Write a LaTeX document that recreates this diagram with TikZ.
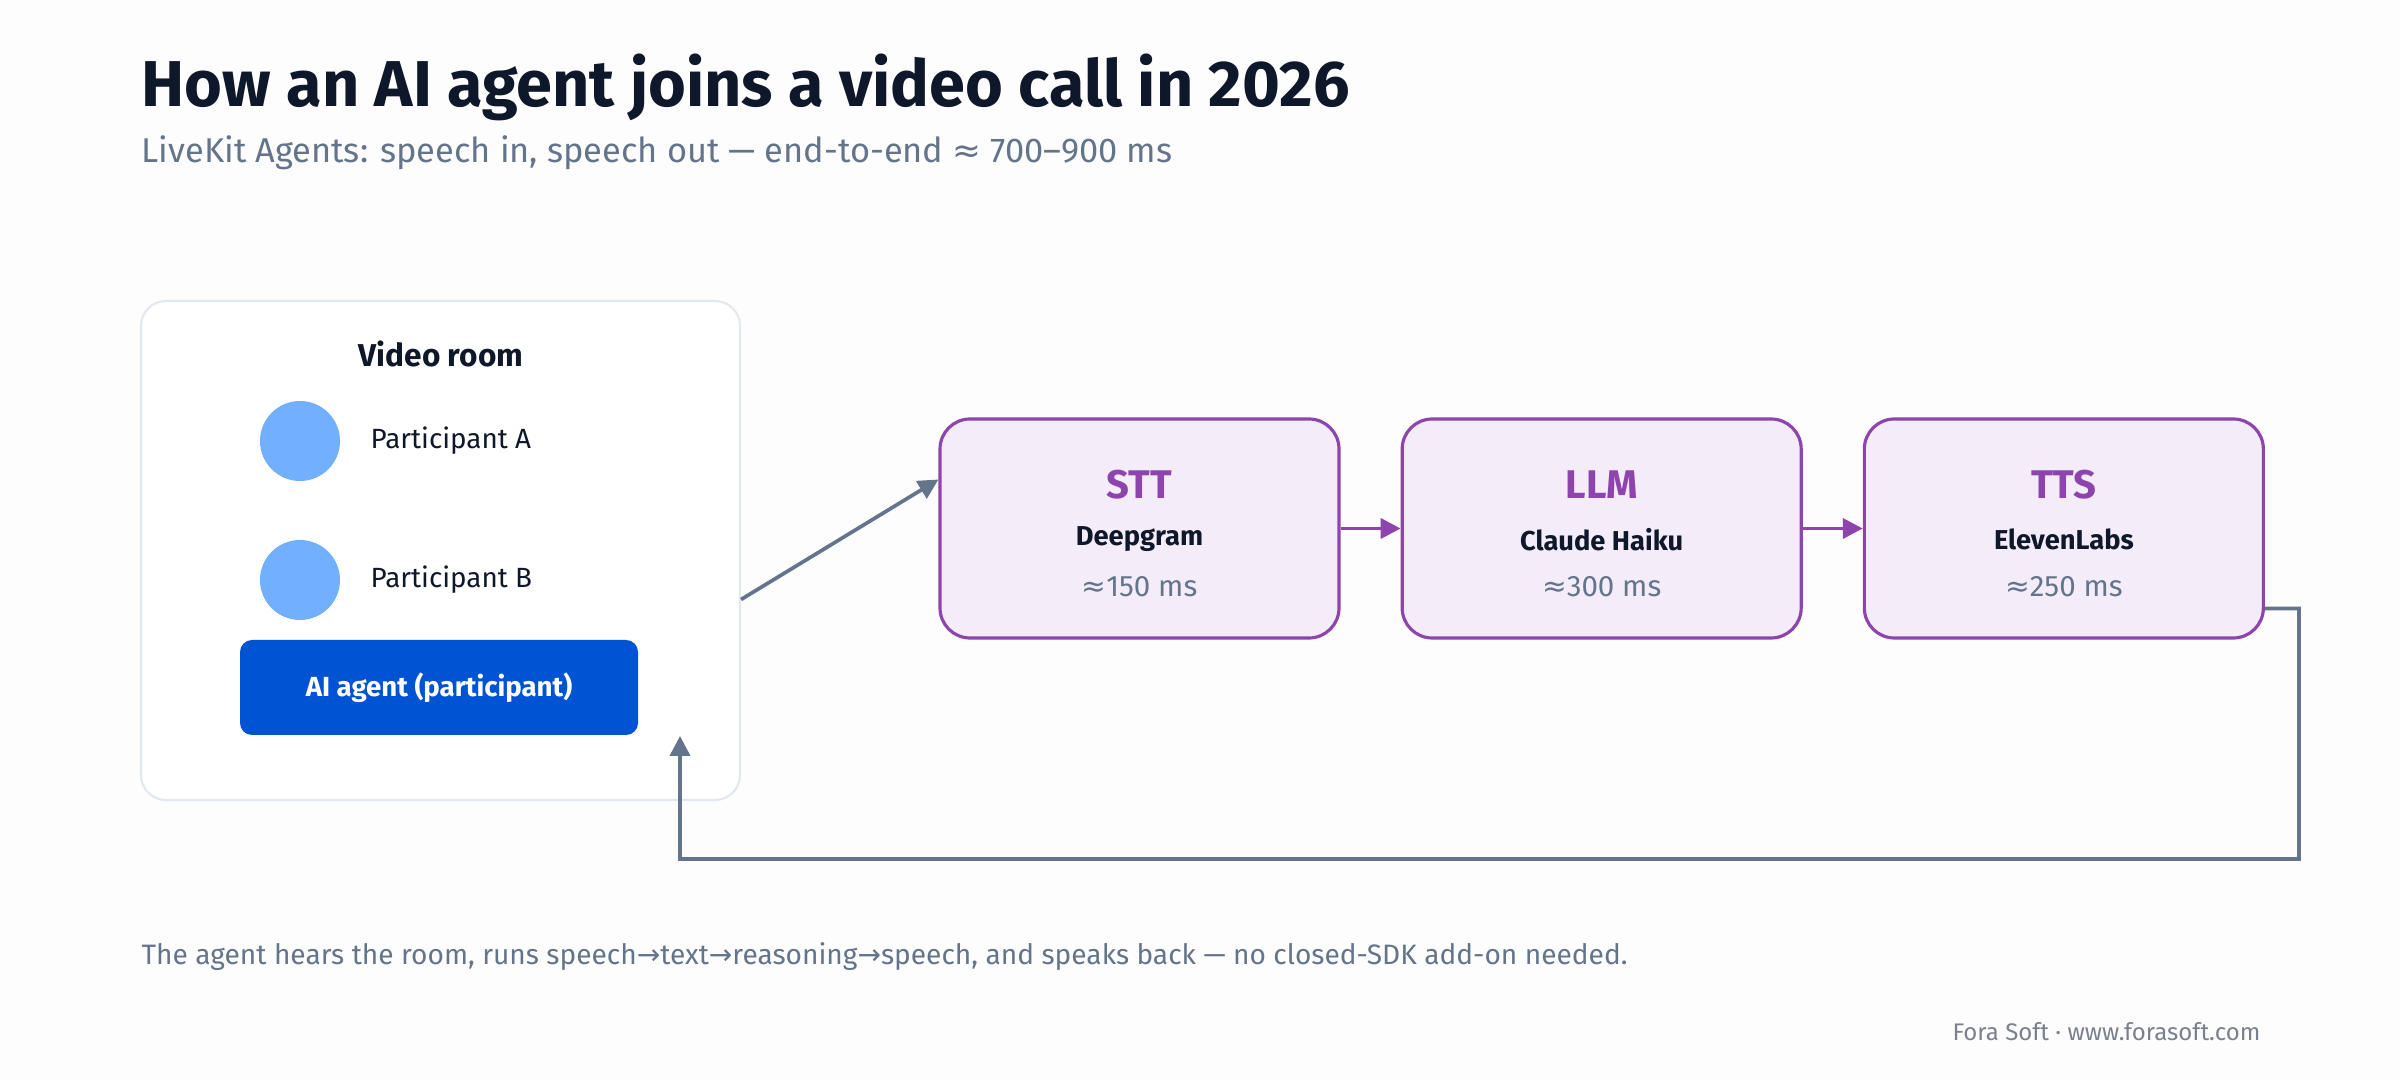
\documentclass[tikz,border=0pt]{standalone}
\usepackage{fontspec}
\setmainfont{Fira Sans}
\newfontfamily\symfont{DejaVu Sans}
\usetikzlibrary{positioning,arrows.meta,calc}

\definecolor{bgwhite}{HTML}{FDFDFE}
\definecolor{ink}{HTML}{0F172A}
\definecolor{slate}{HTML}{64748B}
\definecolor{roomline}{HTML}{E2E8F0}
\definecolor{dotblue}{HTML}{72B0FE}
\definecolor{agentblue}{HTML}{0053D3}
\definecolor{stagepurple}{HTML}{8E44AD}
\definecolor{stagefill}{HTML}{F4ECF9}
\definecolor{brandgray}{HTML}{7A808C}

\newcommand{\fsz}[1]{\fontsize{#1}{1.2\dimexpr#1\relax}\selectfont}
\newcommand{\approxsym}{{\symfont ≈}}
\newcommand{\arr}{{\symfont →}}

\begin{document}
\begin{tikzpicture}[
    stage/.style={draw=stagepurple, line width=0.9pt, fill=stagefill,
        rounded corners=0.3cm, minimum width=3.99cm, minimum height=2.19cm},
    flow/.style={-{Triangle[length=0.2cm,width=0.2cm]}, line width=1.05pt},
    person/.style={circle, fill=dotblue, minimum size=0.8cm, inner sep=0pt},
    personlabel/.style={anchor=west, inner sep=0pt, text=ink, font=\fsz{0.278cm}},
    node distance=0.6cm
]
    \useasboundingbox[fill=bgwhite] (0,0) rectangle (24,10.8);

    % Heading
    \node[anchor=base west, inner sep=0pt, text=ink, font=\bfseries\fsz{0.648cm}] (title) at (1.41,9.73)
        {How an AI agent joins a video call in 2026};
    \node[anchor=base west, inner sep=0pt, text=slate, font=\fsz{0.344cm}] (subtitle) at (1.41,9.17)
        {LiveKit Agents: speech in, speech out — end-to-end \approxsym{} 700–900 ms};

    % Video room
    \node[draw=roomline, line width=0.6pt, fill=white, rounded corners=0.25cm,
        minimum width=5.99cm, minimum height=4.99cm] (room) at (4.405,5.295) {};
    \node[text=ink, font=\bfseries\fsz{0.316cm}] (roomtitle) at (4.41,7.26) {Video room};
    \node[person] (pa) at (3.00,6.39) {};
    \node[personlabel] (palabel) at (3.70,6.39) {Participant A};
    \node[person] (pb) at (3.00,5.00) {};
    \node[personlabel] (pblabel) at (3.70,5.00) {Participant B};
    \node[fill=agentblue, rounded corners=0.12cm, minimum width=3.98cm, minimum height=0.95cm,
        text=white, font=\bfseries\fsz{0.276cm}] (agent) at (4.39,3.925) {AI agent (participant)};

    % Pipeline
    \node[stage] (stt) at (11.395,5.515) {};
    \node[stage, right=of stt] (llm) {};
    \node[stage, right=of llm] (tts) {};

    \foreach \st/\head/\vendor/\ms in {stt/STT/Deepgram/150, llm/LLM/Claude Haiku/300, tts/TTS/ElevenLabs/250} {
        \node[text=stagepurple, font=\bfseries\fsz{0.40cm}] at ($(\st)+(0,0.44)$) {\head};
        \node[text=ink, font=\bfseries\fsz{0.273cm}] at ($(\st)+(0,-0.11)$) {\vendor};
        \node[text=slate, font=\fsz{0.295cm}] at ($(\st)+(0,-0.58)$) {\approxsym\ms{} ms};
    }

    \draw[flow, stagepurple] (stt) -- (llm);
    \draw[flow, stagepurple] (llm) -- (tts);

    % Audio in and back out
    \coordinate (roomout) at ($(room.east)+(0,-0.49)$);
    \coordinate (sttin) at ($(stt.west)+(0,0.49)$);
    \draw[flow, slate] (roomout) -- (sttin);

    \coordinate (ttsout) at ($(tts.east)+(0,-0.80)$);
    \coordinate (agentin) at (6.80,3.44);
    \draw[flow, slate] (ttsout) -- (22.99,4.715) -- (22.99,2.21) -- (6.80,2.21) -- (agentin);

    % Footer
    \node[anchor=base west, inner sep=0pt, text=slate, font=\fsz{0.281cm}] (note) at (1.41,1.16)
        {The agent hears the room, runs speech\arr{}text\arr{}reasoning\arr{}speech, and speaks back — no closed-SDK add-on needed.};
    \node[anchor=base east, inner sep=0pt, text=brandgray, font=\fsz{0.24cm}] (brand) at (22.61,0.40)
        {Fora Soft · www.forasoft.com};
\end{tikzpicture}
\end{document}
